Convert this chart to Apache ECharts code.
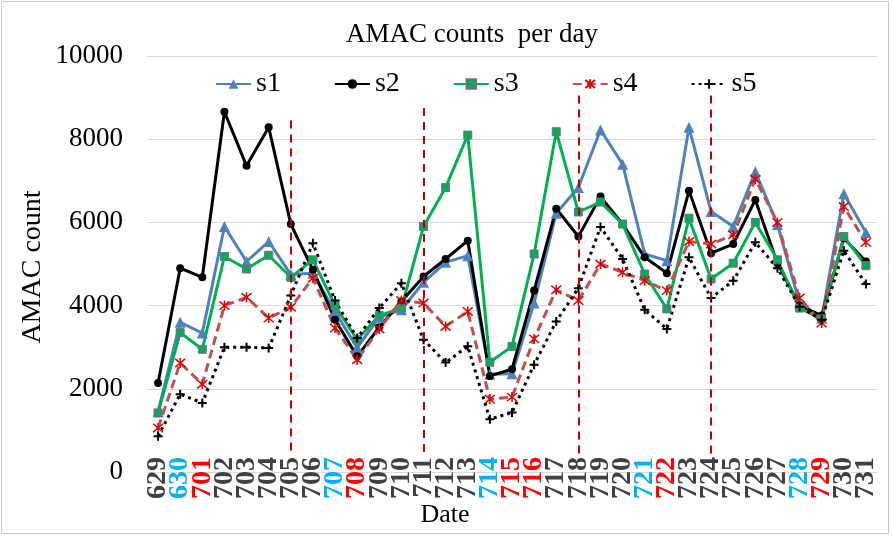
<!DOCTYPE html>
<html>
<head>
<meta charset="utf-8">
<script src="https://cdn.jsdelivr.net/npm/echarts@6/dist/echarts.min.js"></script>
<style>
html,body{margin:0;padding:0;background:#fff;}
#chart{width:892px;height:537px;}
</style>
</head>
<body>
<div id="chart"></div>
<script>
const categories = ['629','630','701','702','703','704','705','706','707','708','709','710','711','712','713','714','715','716','717','718','719','720','721','722','723','724','725','726','727','728','729','730','731'];
const blueDays = ['630','707','714','721','728'];
const redDays = ['701','708','715','716','722','729'];
const s1 = [1450,3600,3340,5900,5060,5540,4750,4780,3850,2990,3720,3900,4560,5040,5200,2350,2360,4060,6220,6840,8220,7400,5240,5080,8290,6260,5900,7220,5950,4060,3700,6690,5760];
const s2 = [2140,4900,4680,8660,7360,8290,5960,4860,3660,2780,3480,4100,4700,5120,5560,2310,2470,4360,6330,5660,6620,5960,5160,4780,6760,5260,5480,6540,5020,4000,3760,5620,5060];
const s3 = [1420,3350,2950,5180,4880,5210,4680,5100,4000,3180,3760,3940,5900,6840,8100,2640,3020,5240,8180,6250,6490,5960,4760,3920,6100,4640,5020,6000,5100,3940,3680,5660,4960];
const s4 = [1060,2620,2110,4000,4200,3700,3960,4660,3460,2700,3440,4120,4060,3500,3860,1750,1800,3200,4380,4120,5000,4800,4600,4360,5540,5480,5700,7040,6000,4180,3580,6380,5520];
const s5 = [860,1870,1660,3000,3000,2980,4240,5500,4120,3220,3940,4540,3180,2630,3020,1270,1430,2580,3620,4420,5890,5120,3900,3440,5160,4180,4600,5520,4900,3970,3660,5320,4520];
const dividerDays = ['705','711','718','724'];
const dividerTops = [8450,8750,9050,9050];
const dividerBottom = 400;
const yTicks = [0,2000,4000,6000,8000,10000];

const serif = 'Liberation Serif';
const chart = echarts.init(document.getElementById('chart'));

const markLines = dividerDays.map((d,i)=>[{coord:[d,dividerTops[i]]},{coord:[d,dividerBottom]}]);

const starPath = 'path://M0,0L10,10M10,0L0,10M5,-1L5,11';
const plusPath = 'path://M5,0L5,10M0,5L10,5';

chart.setOption({
  animation:false,
  graphic:[
    {type:'rect',shape:{x:1.5,y:1.5,width:887,height:532},style:{fill:'none',stroke:'#c8c8c8',lineWidth:1},silent:true},
    {type:'text',x:472,y:35,style:{text:'AMAC counts  per day',font:'27px "Liberation Serif"',fill:'#000',align:'center',verticalAlign:'middle'}},
    {type:'text',x:33,y:267,rotation:Math.PI/2,style:{text:'AMAC count',font:'28px "Liberation Serif"',fill:'#000',align:'center',verticalAlign:'middle'}},
    {type:'text',x:445,y:515,style:{text:'Date',font:'26px "Liberation Serif"',fill:'#000',align:'center',verticalAlign:'middle'}}
  ],
  legend:{
    left:215, top:70, itemWidth:35, itemHeight:12, itemGap:53, padding:0,
    textStyle:{fontFamily:serif,fontSize:28,color:'#000'},
    data:['s1','s2','s3','s4','s5']
  },
  grid:{left:147,right:15,top:56,bottom:65},
  xAxis:{
    type:'category', data:categories, boundaryGap:true,
    axisLine:{show:true,lineStyle:{color:'#d9d9d9',width:1}},
    axisTick:{show:false},
    axisLabel:{
      interval:0, rotate:90, margin:-15, fontFamily:serif, fontSize:28, fontWeight:'bold',
      color:function(v){ return blueDays.indexOf(v)>=0?'#00B0F0':(redDays.indexOf(v)>=0?'#FF0000':'#404040'); }
    }
  },
  yAxis:{
    type:'value', min:yTicks[0], max:yTicks[yTicks.length-1], interval:2000,
    axisLine:{show:false}, axisTick:{show:false},
    splitLine:{lineStyle:{color:'#d9d9d9',width:1}},
    axisLabel:{margin:24,fontFamily:serif,fontSize:27,color:'#000',formatter:function(v){return String(v);}}
  },
  series:[
    {name:'s1',type:'line',data:s1,symbol:'triangle',symbolSize:11,
     lineStyle:{color:'#4F81BD',width:3},itemStyle:{color:'#4F81BD'},
     markLine:{silent:true,symbol:['none','none'],label:{show:false},
       lineStyle:{color:'#C00000',width:2,type:[8,6]},emphasis:{disabled:true},data:markLines}},
    {name:'s2',type:'line',data:s2,symbol:'circle',symbolSize:8,
     lineStyle:{color:'#000',width:3},itemStyle:{color:'#000'}},
    {name:'s3',type:'line',data:s3,symbol:'rect',symbolSize:8,
     lineStyle:{color:'#00B050',width:3},itemStyle:{color:'#00B050',borderColor:'#8064A2',borderWidth:1}},
    {name:'s4',type:'line',data:s4,symbol:starPath,symbolSize:10,
     lineStyle:{color:'#C0504D',width:3,type:[9,5]},itemStyle:{color:'rgba(0,0,0,0)',borderColor:'#E00000',borderWidth:1.5}},
    {name:'s5',type:'line',data:s5,symbol:plusPath,symbolSize:9,
     lineStyle:{color:'#000',width:3,type:[3,4]},itemStyle:{color:'rgba(0,0,0,0)',borderColor:'#000',borderWidth:2}}
  ]
});
</script>
</body>
</html>
